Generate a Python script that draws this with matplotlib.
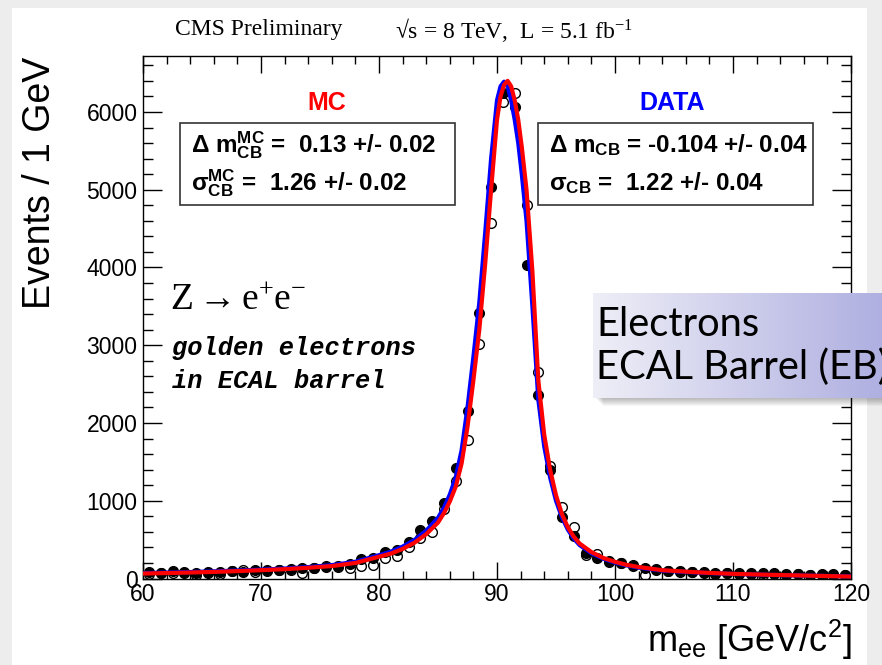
import numpy as np
import matplotlib.pyplot as plt
from matplotlib.patches import Rectangle
from matplotlib.ticker import MultipleLocator

plt.rcParams['font.family'] = ['Liberation Sans', 'DejaVu Sans']
plt.rcParams['mathtext.fontset'] = 'stix'
plt.rcParams['mathtext.default'] = 'regular'

W, H = 882, 665

# 1 GeV bins, 60-120 GeV
bin_centers = np.arange(60.5, 120.0, 1.0)

# data (filled circles)
data_counts = [85, 70, 95, 80, 75, 90, 80, 100, 90, 105,
               110, 115, 125, 130, 140, 150, 165, 190, 250, 265,
               345, 365, 465, 620, 745, 965, 1415, 2160, 3410, 5030,
               6250, 6060, 4030, 2360, 1400, 785, 553, 330, 270, 206,
               193, 160, 130, 110, 100, 95, 80, 75, 70, 65,
               70, 60, 65, 75, 55, 60, 50, 55, 60, 45]

# MC (open circles)
mc_counts = [60, 75, 70, 65, 40, 70, 60, 95, 110, 80,
             100, 105, 110, 70, 130, 155, 150, 140, 165, 175,
             270, 290, 400, 515, 600, 900, 1260, 1780, 3020, 4570,
             6125, 6240, 4800, 2650, 1450, 914, 656, 296, 310, 230,
             200, 170, 39, 120, 100, 85, 80, 85, 60, 70,
             55, 65, 40, 60, 50, 55, 40, 50, 45, 40]

# fitted Crystal-Ball x Breit-Wigner curves
fit_mass = [60, 62, 64, 66, 68, 70, 72, 74, 76, 78,
            80, 81, 82, 83, 84, 85, 85.5, 86, 86.5, 87,
            87.5, 88, 88.5, 89, 89.5, 90, 90.3, 90.6, 90.9, 91.2,
            91.5, 91.8, 92.1, 92.5, 93, 93.5, 94, 94.5, 95, 95.5,
            96, 96.5, 97, 98, 99, 100, 101, 102, 104, 106,
            108, 110, 113, 116, 120]
fit_mc = [64, 70, 77, 85, 95, 107, 120, 138, 160, 200,
          280, 320, 380, 460, 570, 720, 840, 990, 1180, 1480,
          1950, 2550, 3200, 4050, 5000, 5900, 6200, 6350, 6400, 6330,
          6150, 5900, 5550, 5000, 3950, 2550, 1850, 1400, 1070, 830,
          660, 540, 450, 340, 265, 215, 175, 148, 107, 88,
          72, 60, 48, 38, 25]
fit_data = [70, 76, 83, 92, 102, 114, 128, 147, 172, 215,
            300, 345, 410, 495, 615, 780, 910, 1080, 1300, 1650,
            2200, 2850, 3550, 4450, 5400, 6150, 6330, 6390, 6330, 6150,
            5900, 5600, 5200, 4600, 3500, 2300, 1700, 1300, 1000, 790,
            630, 515, 430, 325, 255, 205, 168, 140, 102, 84,
            70, 59, 47, 38, 27]

mc_lines = [r'$\Delta$ m$^{MC}_{CB}$ =  0.13 +/- 0.02',
            r'$\sigma^{MC}_{CB}$ =  1.26 +/- 0.02']
data_lines = [r'$\Delta$ m$_{CB}$ = -0.104 +/- 0.04',
              r'$\sigma_{CB}$ =  1.22 +/- 0.04']


def fx(px):
    return px / W


def fy(py):
    return 1 - py / H


fig = plt.figure(figsize=(W / 100, H / 100), dpi=100, facecolor='#ededed')

# slide background
fig.add_artist(Rectangle((fx(12), 0), fx(867) - fx(12), fy(8),
                         transform=fig.transFigure, facecolor='white',
                         edgecolor='none', zorder=-5))

ax = fig.add_axes([fx(143), fy(578.5), fx(851) - fx(143), fy(56) - fy(578.5)])

ax.plot(bin_centers, mc_counts, 'o', mfc='none', mec='black', ms=7, mew=1,
        zorder=2)
ax.plot(bin_centers, data_counts, 'o', color='black', ms=7, zorder=2)
ax.plot(fit_mass, fit_data, color='blue', lw=3, zorder=3,
        solid_joinstyle='round')
ax.plot(fit_mass, fit_mc, color='red', lw=3, zorder=4,
        solid_joinstyle='round')

ax.set_xlim(60, 120)
ax.set_ylim(0, 6720)
ax.xaxis.set_major_locator(MultipleLocator(10))
ax.xaxis.set_minor_locator(MultipleLocator(2))
ax.yaxis.set_major_locator(MultipleLocator(1000))
ax.yaxis.set_minor_locator(MultipleLocator(200))
ax.tick_params(which='both', direction='in', top=True, right=True,
               width=1, color='black', labelsize=16.5)
ax.tick_params(axis='x', which='major', length=12, pad=3)
ax.tick_params(axis='x', which='minor', length=6)
ax.tick_params(axis='y', which='major', length=14, pad=4)
ax.tick_params(axis='y', which='minor', length=7)
for sp in ax.spines.values():
    sp.set_linewidth(1)

# axis titles
fig.text(fx(40), fy(57), 'Events / 1 GeV', rotation=90, ha='center',
         va='top', fontsize=27)
fig.text(fx(852), fy(640), r'm$_{ee}$ [GeV/c$^{2}$]', ha='right',
         va='center', fontsize=26)

# header
fig.text(fx(175), fy(30), 'CMS Preliminary', family='Liberation Serif',
         fontsize=17, va='center')
fig.text(fx(395), fy(30), r'√s = 8 TeV,  L = 5.1 fb$^{-1}$',
         family='Liberation Serif', fontsize=17, va='center')

# fit result boxes
fig.text(fx(327), fy(103), 'MC', color='red', fontweight='bold',
         fontsize=18, ha='center', va='center')
fig.text(fx(672), fy(103), 'DATA', color='blue', fontweight='bold',
         fontsize=18, ha='center', va='center')
for x0, x1, lines in [(180, 455, mc_lines), (538, 813, data_lines)]:
    fig.add_artist(Rectangle((fx(x0), fy(205)), fx(x1) - fx(x0),
                             fy(123) - fy(205), transform=fig.transFigure,
                             facecolor='white', edgecolor='#333333',
                             lw=1.2, zorder=3))
    for i, line in enumerate(lines):
        fig.text(fx(x0 + 11), fy(145 + 38 * i), line, fontweight='bold',
                 fontsize=17.5, va='center', zorder=4)

# process labels
fig.text(fx(170), fy(300), r'Z$\rightarrow$e$^{+}$e$^{-}$',
         family='Liberation Serif', fontsize=27, va='center')
fig.text(fx(172), fy(348), 'golden electrons', family='Liberation Mono',
         fontweight='bold', style='italic', fontsize=18.3, va='center')
fig.text(fx(172), fy(381), 'in ECAL barrel', family='Liberation Mono',
         fontweight='bold', style='italic', fontsize=18.3, va='center')

# slide overlay box with gradient and shadow
for k in range(8):
    fig.add_artist(Rectangle((fx(596 + k), fy(399 + k)), 1.0, fy(300) - fy(399),
                             transform=fig.transFigure, facecolor='black',
                             edgecolor='none', alpha=0.035, zorder=6))
box = fig.add_axes([fx(593), fy(398), 1 - fx(593) + 0.01, fy(293) - fy(398)],
                   zorder=7)
grad = np.linspace(0, 1, 256).reshape(1, -1)
c0 = np.array([0.935, 0.935, 0.97])
c1 = np.array([0.68, 0.68, 0.88])
img = c0[None, None, :] + (c1 - c0)[None, None, :] * grad[:, :, None]
box.imshow(img, aspect='auto', extent=[0, 1, 0, 1])
box.set_axis_off()
fig.text(fx(596), fy(325), 'Electrons', family='Lato', fontsize=28.7,
         va='center', zorder=8)
fig.text(fx(596), fy(367), 'ECAL Barrel (EB)', family='Lato', fontsize=28.7,
         va='center', zorder=8)

fig.savefig('out.png', dpi=100, facecolor=fig.get_facecolor())
